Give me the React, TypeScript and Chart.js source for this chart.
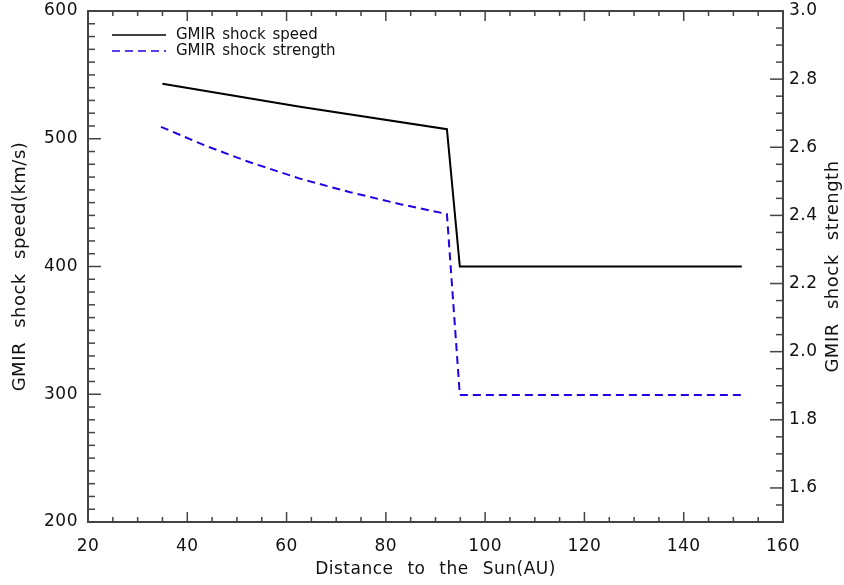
import React, { useEffect, useRef } from 'react';
import { Chart, registerables } from 'chart.js';

Chart.register(...registerables);

// ---- data ----
const speedDistance = [35, 62.7, 92.3, 94.9, 151.7];
const speedValues = [543, 525, 507.5, 400, 400];

const strengthDistance = [34.7, 43.6, 52.6, 62.7, 72.8, 82.9, 92.3, 94.9, 151.7];
const strengthValues = [2.66, 2.605, 2.556, 2.508, 2.468, 2.433, 2.404, 1.873, 1.873];

const xTickValues = [20, 40, 60, 80, 100, 120, 140, 160];
const speedTickValues = [200, 300, 400, 500, 600];
const strengthTickValues = [1.6, 1.8, 2.0, 2.2, 2.4, 2.6, 2.8, 3.0];
const strengthTickLabels = ['1.6', '1.8', '2.0', '2.2', '2.4', '2.6', '2.8', '3.0'];

const seriesLabels = ['GMIR shock speed', 'GMIR shock strength'];
const xTitle = 'Distance to the Sun(AU)';
const leftTitle = 'GMIR shock speed(km/s)';
const rightTitle = 'GMIR shock strength';

const FONT = "'DejaVu Sans', 'Liberation Sans', sans-serif";
const AXIS_COLOR = '#444';
const TEXT_COLOR = '#111';
const BLUE = '#2200e6';

const zeroPadding = (s: any) => {
  s.paddingTop = 0;
  s.paddingBottom = 0;
  s.paddingLeft = 0;
  s.paddingRight = 0;
};

const framePlugin = {
  id: 'idlFrame',
  beforeDraw(chart: any) {
    const c = chart.ctx as any;
    c.wordSpacing = '8px';
    c.letterSpacing = '0.5px';
  },
  afterDatasetsDraw(chart: any) {
    const { ctx, chartArea: a, scales } = chart;
    ctx.save();
    ctx.strokeStyle = AXIS_COLOR;
    ctx.lineWidth = 1.5;
    ctx.setLineDash([]);
    // x ticks (bottom & top), minor every 5
    const xs = scales.x;
    for (let i = 0; i <= 28; i++) {
      const v = 20 + i * 5;
      const px = xs.getPixelForValue(v);
      const len = i % 4 === 0 ? 10 : 5;
      ctx.beginPath();
      ctx.moveTo(px, a.bottom);
      ctx.lineTo(px, a.bottom - len);
      ctx.moveTo(px, a.top);
      ctx.lineTo(px, a.top + len);
      ctx.stroke();
    }
    // left ticks, minor every 10
    const ys = scales.y;
    for (let i = 0; i <= 40; i++) {
      const v = 200 + i * 10;
      const py = ys.getPixelForValue(v);
      const len = i % 10 === 0 ? 13 : 7;
      ctx.beginPath();
      ctx.moveTo(a.left, py);
      ctx.lineTo(a.left + len, py);
      ctx.stroke();
    }
    // right ticks, minor every 0.05
    const y2 = scales.y2;
    for (let i = 0; i <= 30; i++) {
      const v = 1.5 + i * 0.05;
      const py = y2.getPixelForValue(v);
      const len = (i - 2) % 4 === 0 ? 13 : 7;
      ctx.beginPath();
      ctx.moveTo(a.right, py);
      ctx.lineTo(a.right - len, py);
      ctx.stroke();
    }
    ctx.lineWidth = 2;
    ctx.strokeRect(a.left, a.top, a.right - a.left, a.bottom - a.top);
    ctx.restore();
  },
  afterDraw(chart: any) {
    const { ctx, chartArea: a } = chart;
    // right axis title (reads bottom-to-top like the left one)
    ctx.save();
    (ctx as any).wordSpacing = '8px';
    (ctx as any).letterSpacing = '0.5px';
    ctx.translate(833, (a.top + a.bottom) / 2);
    ctx.rotate(-Math.PI / 2);
    ctx.font = `18px ${FONT}`;
    ctx.fillStyle = TEXT_COLOR;
    ctx.textAlign = 'center';
    ctx.textBaseline = 'middle';
    ctx.fillText(rightTitle, 0, 0);
    ctx.restore();

    // legend inside the plot, top-left
    chart.data.datasets.forEach((ds: any, i: number) => {
      const y = a.top + 24 + i * 16;
      const x0 = a.left + 24;
      ctx.save();
      ctx.strokeStyle = ds.borderColor;
      ctx.lineWidth = 1.5;
      ctx.setLineDash(ds.borderDash || []);
      ctx.beginPath();
      ctx.moveTo(x0, y);
      ctx.lineTo(x0 + 54, y);
      ctx.stroke();
      ctx.setLineDash([]);
      (ctx as any).wordSpacing = '2px';
      (ctx as any).letterSpacing = '0px';
      ctx.font = `15px ${FONT}`;
      ctx.fillStyle = TEXT_COLOR;
      ctx.textAlign = 'left';
      ctx.textBaseline = 'middle';
      ctx.fillText(ds.label, x0 + 64, y);
      ctx.restore();
    });
  },
};

export default function App() {
  const canvasRef = useRef<HTMLCanvasElement | null>(null);

  useEffect(() => {
    document.body.style.margin = '0';
    const canvas = canvasRef.current;
    if (!canvas) return;
    Chart.defaults.font.family = FONT;

    const chart = new Chart(canvas, {
      type: 'line',
      data: {
        datasets: [
          {
            label: seriesLabels[0],
            data: speedDistance.map((x, i) => ({ x, y: speedValues[i] })),
            yAxisID: 'y',
            borderColor: '#000',
            backgroundColor: '#000',
            borderWidth: 2,
            pointRadius: 0,
            tension: 0,
            fill: false,
          },
          {
            label: seriesLabels[1],
            data: strengthDistance.map((x, i) => ({ x, y: strengthValues[i] })),
            yAxisID: 'y2',
            borderColor: BLUE,
            backgroundColor: BLUE,
            borderWidth: 2,
            borderDash: [8, 5],
            pointRadius: 0,
            tension: 0,
            fill: false,
          },
        ],
      },
      options: {
        responsive: false,
        animation: false,
        devicePixelRatio: 1,
        layout: { padding: { top: 11, left: 0, right: 0, bottom: 0 } },
        plugins: {
          tooltip: { enabled: false },
          legend: { display: false },
        },
        scales: {
          x: {
            type: 'linear',
            position: 'bottom',
            min: 20,
            max: 160,
            afterBuildTicks: (s: any) => {
              s.ticks = xTickValues.map((v) => ({ value: v }));
            },
            ticks: {
              color: TEXT_COLOR,
              font: { family: FONT, size: 17 },
              padding: 14,
              maxRotation: 0,
              autoSkip: false,
              callback: (v: any) => String(v),
            },
            grid: { display: false, drawTicks: false },
            border: { display: false },
            title: {
              display: true,
              text: xTitle,
              color: TEXT_COLOR,
              font: { family: FONT, size: 17 },
              padding: { top: 0, bottom: 5 },
            },
            afterFit: (s: any) => {
              s.height = 63;
              zeroPadding(s);
            },
          },
          y: {
            type: 'linear',
            position: 'left',
            min: 200,
            max: 600,
            afterBuildTicks: (s: any) => {
              s.ticks = speedTickValues.map((v) => ({ value: v }));
            },
            ticks: {
              color: TEXT_COLOR,
              font: { family: FONT, size: 17 },
              padding: 10,
              autoSkip: false,
              callback: (v: any) => String(v),
            },
            grid: { display: false, drawTicks: false },
            border: { display: false },
            title: {
              display: true,
              text: leftTitle,
              color: TEXT_COLOR,
              font: { family: FONT, size: 18 },
              padding: { top: 10, bottom: 0 },
            },
            afterFit: (s: any) => {
              s.width = 88;
              zeroPadding(s);
            },
          },
          y2: {
            type: 'linear',
            position: 'right',
            min: 1.5,
            max: 3.0,
            afterBuildTicks: (s: any) => {
              s.ticks = strengthTickValues.map((v) => ({ value: v }));
            },
            ticks: {
              color: TEXT_COLOR,
              font: { family: FONT, size: 17 },
              padding: 6,
              autoSkip: false,
              callback: (_v: any, i: number) => strengthTickLabels[i],
            },
            grid: { display: false, drawTicks: false },
            border: { display: false },
            title: { display: false },
            afterFit: (s: any) => {
              s.width = 61;
              zeroPadding(s);
            },
          },
        },
      } as any,
      plugins: [framePlugin],
    });

    return () => chart.destroy();
  }, []);

  return (
    <div style={{ width: 844, height: 585, background: '#fff' }}>
      <canvas ref={canvasRef} width={844} height={585} style={{ display: 'block' }} />
    </div>
  );
}
